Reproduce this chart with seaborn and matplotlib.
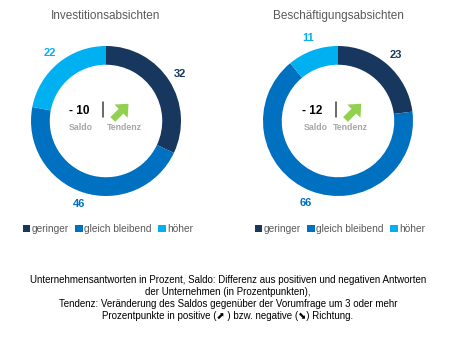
import matplotlib
matplotlib.use("Agg")
import matplotlib.pyplot as plt
import matplotlib.patches as mpatches
import seaborn as sns
from matplotlib.patches import Patch

sns.set_theme(style="white")
plt.rcParams['font.family'] = ['Liberation Sans', 'DejaVu Sans']

categories = ["geringer", "gleich bleibend", "höher"]
titles = ["Investitionsabsichten", "Beschäftigungsabsichten"]
invest_values = [32, 46, 22]
besch_values = [23, 66, 11]
saldo_labels = ["- 10", "- 12"]
footnote = ("Unternehmensantworten in Prozent, Saldo: Differenz aus positiven und negativen Antworten\n"
            "der Unternehmen (in Prozentpunkten),\n"
            "Tendenz: Veränderung des Saldos gegenüber der Vorumfrage um 3 oder mehr\n"
            "Prozentpunkte in positive (\u2b08 ) bzw. negative (\u2b0a) Richtung.")

palette = sns.color_palette(["#17375E", "#0070C0", "#00B0F0"])
W, H = 456, 339
fig = plt.figure(figsize=(W / 100, H / 100), dpi=100)

R = 75
box = 200
centers = [(106, 121), (338, 121)]
legend_x = [108, 340]
# per chart x offsets of center annotations (in radius units)
value_x = [-0.35, -0.35]
saldo_x = [-0.33, -0.29]
bar_x = [-0.04, -0.027]
arrow_x = [0.09, 0.10]
tend_x = [0.24, 0.17]

for i, (vals, title) in enumerate(zip([invest_values, besch_values], titles)):
    cx, cy = centers[i]
    ax = fig.add_axes([(cx - box / 2) / W, 1 - (cy + box / 2) / H, box / W, box / H])
    wedges, texts, autotexts = ax.pie(
        vals, colors=palette, startangle=90, counterclock=False, radius=1.0,
        wedgeprops=dict(width=0.25, edgecolor="none"),
        autopct=lambda p: f"{p:.0f}", pctdistance=1.17,
        textprops=dict(fontsize=8, fontweight="bold"))
    for t, c in zip(autotexts, palette):
        t.set_color(c)
    lim = (box / 2) / R
    ax.set_xlim(-lim, lim)
    ax.set_ylim(-lim, lim)
    ax.set_aspect("equal")
    ax.axis("off")
    # center annotations
    ax.text(value_x[i], 0.14, saldo_labels[i], fontsize=8.5, fontweight="bold", color="black",
            ha="center", va="center")
    ax.plot([bar_x[i], bar_x[i]], [0.05, 0.25], color="#404040", lw=1.1)
    ax.add_patch(mpatches.FancyArrow(arrow_x[i], 0.02, 0.21, 0.21, width=0.09,
                                     head_width=0.25, head_length=0.14,
                                     length_includes_head=True, color="#92D050", lw=0))
    ax.text(saldo_x[i], -0.08, "Saldo", fontsize=6.3, fontweight="bold",
            color="#A6A6A6", ha="center", va="center")
    ax.text(tend_x[i], -0.08, "Tendenz", fontsize=6.3, fontweight="bold",
            color="#A6A6A6", ha="center", va="center")
    fig.text(cx / W, 1 - 16 / H, title, fontsize=8.5, color="#595959", ha="center", va="center")
    handles = [Patch(facecolor=c, edgecolor="none", label=l) for c, l in zip(palette, categories)]
    fig.legend(handles=handles, loc="center", bbox_to_anchor=(legend_x[i] / W, 1 - 229 / H),
               ncol=3, frameon=False, fontsize=7.3, labelcolor="#595959",
               handlelength=0.75, handleheight=0.75, handletextpad=0.15, columnspacing=0.6)

fig.text(0.5, 1 - 298 / H, footnote, fontsize=7, color="black", ha="center", va="center",
         linespacing=1.22, family=["Liberation Sans", "DejaVu Sans"])

fig.savefig("out.png", dpi=100, facecolor="white")
